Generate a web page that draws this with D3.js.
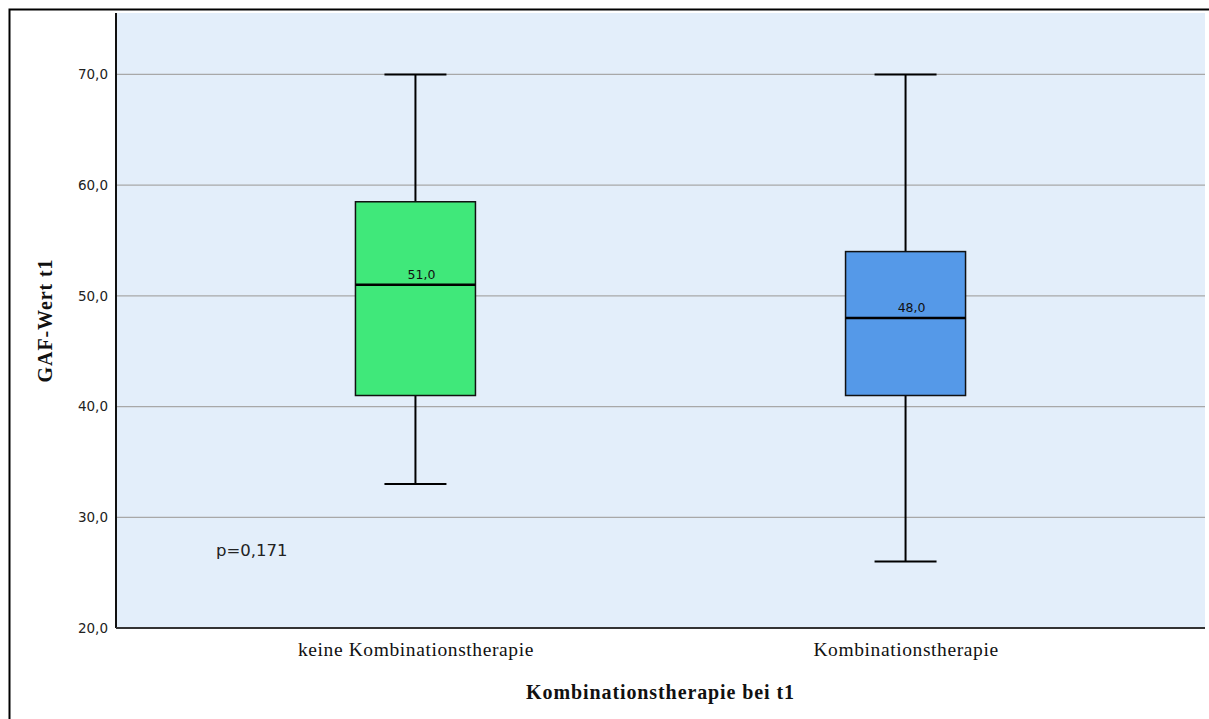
<!DOCTYPE html>
<html><head><meta charset="utf-8">
<script src="https://cdn.jsdelivr.net/npm/d3@7"></script>
<style>body{margin:0;background:#fff;}svg{display:block;}</style>
</head><body>
<svg id="c" width="1209" height="719"></svg>
<script>
const categories = ["keine Kombinationstherapie", "Kombinationstherapie"];
const whiskerLow  = [33, 26];
const q1          = [41, 41];
const median      = [51, 48];
const q3          = [58.5, 54];
const whiskerHigh = [70, 70];
const medianLabels = ["51,0", "48,0"];
const boxColors = ["#40e87a", "#5599e8"];
const yTicks = [20, 30, 40, 50, 60, 70];
const yTickLabels = ["20,0", "30,0", "40,0", "50,0", "60,0", "70,0"];
const pText = "p=0,171";
const yTitle = "GAF-Wert t1";
const xTitle = "Kombinationstherapie bei t1";

const svg = d3.select("#c");
const L = 116, R = 1205, T = 13, B = 628;
const y = d3.scaleLinear().domain([20, 75.55]).range([B, T]);
const x = d3.scalePoint().domain(categories).range([L, R]).padding(0.611);

// outer frame
svg.append("path").attr("d", `M9.5,719 V9.5 H1209`).attr("fill","none").attr("stroke","#000").attr("stroke-width",2);

// plot background
svg.append("rect").attr("x", L).attr("y", T).attr("width", R - L).attr("height", B - T).attr("fill", "#e3eefa");

// gridlines
svg.append("g").selectAll("line").data(yTicks.filter(d => d > 20)).join("line")
  .attr("x1", L).attr("x2", R).attr("y1", d => y(d)).attr("y2", d => y(d))
  .attr("stroke", "#a8a8a8").attr("stroke-width", 1.3);

// y axis
const yAxis = svg.append("g").attr("transform", `translate(${L},0)`)
  .call(d3.axisLeft(y).tickValues(yTicks).tickFormat((d, i) => yTickLabels[i]).tickSize(0).tickPadding(8));
yAxis.select(".domain").remove();
yAxis.selectAll("text").attr("font-family", "DejaVu Sans, sans-serif").attr("font-size", 13.5).attr("fill", "#222");
svg.append("line").attr("x1", L).attr("x2", L).attr("y1", T).attr("y2", B).attr("stroke", "#111").attr("stroke-width", 2);
svg.append("line").attr("x1", L).attr("x2", R).attr("y1", B).attr("y2", B).attr("stroke", "#333").attr("stroke-width", 2);

// x axis labels
const xAxis = svg.append("g").attr("transform", `translate(0,${B})`)
  .call(d3.axisBottom(x).tickSize(0).tickPadding(14));
xAxis.select(".domain").remove();
xAxis.selectAll("text").attr("font-family", "Liberation Serif, serif").attr("font-size", 19.5)
  .attr("letter-spacing", 0.6).attr("fill", "#111");

// boxes
const boxW = 120, capW = 62;
const g = svg.append("g").selectAll("g").data(categories).join("g");
g.append("line").attr("x1", d => x(d)).attr("x2", d => x(d))
  .attr("y1", (d, i) => y(whiskerHigh[i])).attr("y2", (d, i) => y(q3[i])).attr("stroke", "#000").attr("stroke-width", 2);
g.append("line").attr("x1", d => x(d)).attr("x2", d => x(d))
  .attr("y1", (d, i) => y(q1[i])).attr("y2", (d, i) => y(whiskerLow[i])).attr("stroke", "#000").attr("stroke-width", 2);
g.append("line").attr("x1", d => x(d) - capW / 2).attr("x2", d => x(d) + capW / 2)
  .attr("y1", (d, i) => y(whiskerHigh[i])).attr("y2", (d, i) => y(whiskerHigh[i])).attr("stroke", "#000").attr("stroke-width", 2);
g.append("line").attr("x1", d => x(d) - capW / 2).attr("x2", d => x(d) + capW / 2)
  .attr("y1", (d, i) => y(whiskerLow[i])).attr("y2", (d, i) => y(whiskerLow[i])).attr("stroke", "#000").attr("stroke-width", 2);
g.append("rect").attr("x", d => x(d) - boxW / 2).attr("width", boxW)
  .attr("y", (d, i) => y(q3[i])).attr("height", (d, i) => y(q1[i]) - y(q3[i]))
  .attr("fill", (d, i) => boxColors[i]).attr("stroke", "#111").attr("stroke-width", 1.5);
g.append("line").attr("x1", d => x(d) - boxW / 2).attr("x2", d => x(d) + boxW / 2)
  .attr("y1", (d, i) => y(median[i])).attr("y2", (d, i) => y(median[i])).attr("stroke", "#000").attr("stroke-width", 2.5);
g.append("text").attr("x", d => x(d) + 6).attr("y", (d, i) => y(median[i]) - 6)
  .attr("text-anchor", "middle").attr("font-family", "DejaVu Sans, sans-serif").attr("font-size", 12.5).attr("fill", "#111")
  .text((d, i) => medianLabels[i]);

// p value
svg.append("text").attr("x", 216).attr("y", 556).attr("font-family", "DejaVu Sans, sans-serif").attr("font-size", 16.5).attr("fill", "#222").text(pText);

// titles
svg.append("text").attr("transform", `translate(52,${(T + B) / 2}) rotate(-90)`).attr("text-anchor", "middle")
  .attr("font-family", "Liberation Serif, serif").attr("font-weight", "bold").attr("font-size", 20).attr("letter-spacing", 0.9)
  .attr("fill", "#111").text(yTitle);
svg.append("text").attr("x", (L + R) / 2).attr("y", 699).attr("text-anchor", "middle")
  .attr("font-family", "Liberation Serif, serif").attr("font-weight", "bold").attr("font-size", 20).attr("letter-spacing", 0.9)
  .attr("fill", "#111").text(xTitle);
</script>
</body></html>
